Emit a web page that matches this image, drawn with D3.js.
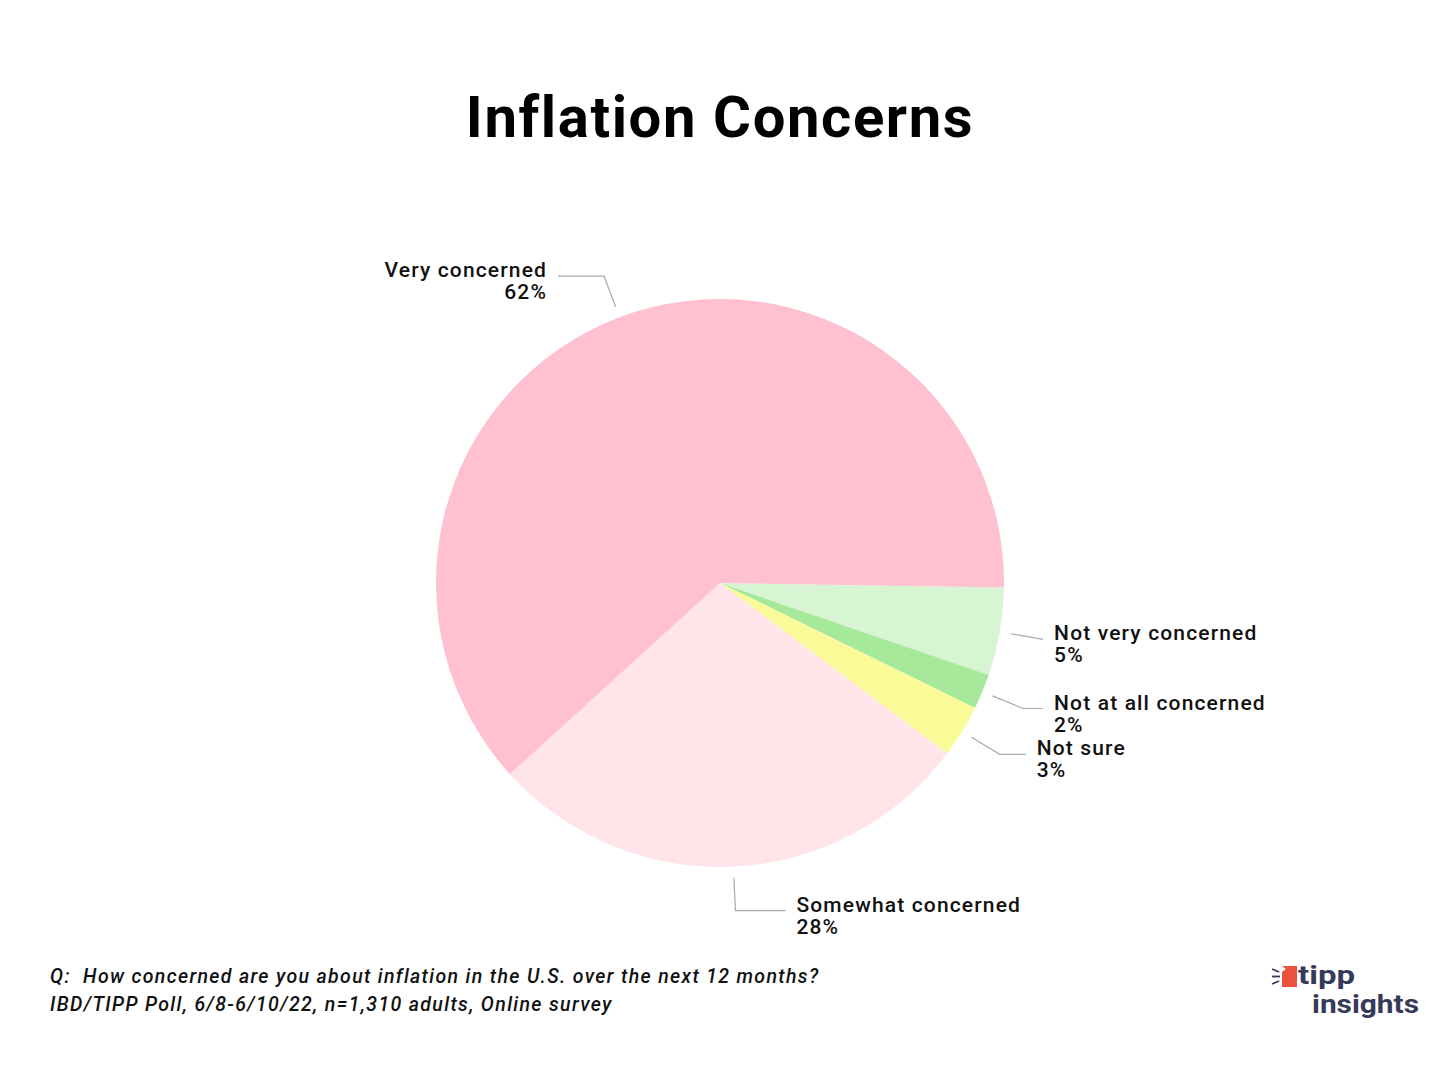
<!DOCTYPE html>
<html>
<head>
<meta charset="utf-8">
<script src="https://cdn.jsdelivr.net/npm/d3@7/dist/d3.min.js"></script>
<style>
  html, body { margin: 0; padding: 0; background: #fff; }
  svg { display: block; }
  text { white-space: pre; }
</style>
</head>
<body>
<svg id="chart" width="1440" height="1080"></svg>
<script>
// ---- data ----
const categories = ["Not very concerned", "Not at all concerned", "Not sure", "Somewhat concerned", "Very concerned"];
const values = [5, 2, 3, 28, 62];
const valueLabels = ["5%", "2%", "3%", "28%", "62%"];
const sliceColors = ["#d7f5d3", "#a6e99b", "#fbfa98", "#ffe4ea", "#ffc0cf"];
const titleText = "Inflation Concerns";
const footnotes = [
  "Q:  How concerned are you about inflation in the U.S. over the next 12 months?",
  "IBD/TIPP Poll, 6/8-6/10/22, n=1,310 adults, Online survey"
];
const logoWords = ["tipp", "insights"];

// ---- layout ----
const W = 1440, H = 1080;
const cx = 720, cy = 583, R = 284;
const startDeg = 90.9;
const leaderExt = [0, 20, 26, 50, 46]; // horizontal extension of leader lines
const font = "Roboto, 'Noto Sans', sans-serif";

const svg = d3.select("#chart");
svg.append("rect").attr("width", W).attr("height", H).attr("fill", "#fff");

svg.append("text")
  .attr("x", 720).attr("y", 137)
  .attr("text-anchor", "middle")
  .attr("font-family", font)
  .attr("font-weight", 700)
  .attr("font-size", 58)
  .attr("letter-spacing", 1.6)
  .attr("fill", "#000")
  .text(titleText);

const rad = Math.PI / 180;
const pie = d3.pie().sort(null).value(d => d)
  .startAngle(startDeg * rad).endAngle((startDeg + 360) * rad);
const arcs = pie(values);
const arc = d3.arc().innerRadius(0).outerRadius(R);

const g = svg.append("g").attr("transform", `translate(${cx},${cy})`);
g.selectAll("path.slice").data(arcs).enter().append("path")
  .attr("class", "slice")
  .attr("d", arc)
  .attr("fill", (d, i) => sliceColors[i]);

const r1 = R + 11, r2 = R + 44;
arcs.forEach((d, i) => {
  const a = (d.startAngle + d.endAngle) / 2;
  const sx = Math.sin(a), sy = -Math.cos(a);
  const p1 = [r1 * sx, r1 * sy];
  const p2 = [r2 * sx, r2 * sy];
  const right = sx >= 0;
  const p3 = [p2[0] + (right ? leaderExt[i] : -leaderExt[i]), p2[1]];
  g.append("polyline")
    .attr("points", [p1, p2, p3].map(p => p.join(",")).join(" "))
    .attr("fill", "none")
    .attr("stroke", "#aaaaaa")
    .attr("stroke-width", 1.2);
  const tx = p3[0] + (right ? 11 : -11);
  const t = g.append("text")
    .attr("x", tx).attr("y", p2[1] + 1)
    .attr("text-anchor", right ? "start" : "end")
    .attr("font-family", font)
    .attr("font-weight", 500)
    .attr("font-size", 21)
    .attr("letter-spacing", 1.15)
    .attr("fill", "#111");
  t.append("tspan").attr("x", tx).attr("dy", 0).text(categories[i]);
  t.append("tspan").attr("x", tx).attr("dy", 22).text(valueLabels[i]);
});

// footnotes
footnotes.forEach((f, i) => {
  svg.append("text")
    .attr("x", 50).attr("y", 983 + i * 28)
    .attr("font-family", font)
    .attr("font-style", "italic")
    .attr("font-weight", 500)
    .attr("font-size", 19.5)
    .attr("letter-spacing", 1.35)
    .attr("fill", "#111")
    .text(f);
});

// logo
const logo = svg.append("g");
logo.append("path")
  .attr("d", "M1282,966 L1297,966 L1297,987 L1282,987 L1282,972 L1286,969 Z")
  .attr("fill", "#ec5140");
[[1272, 969, 1279, 972], [1272, 976.5, 1280, 976.5], [1272, 984, 1279, 981]].forEach(l => {
  logo.append("line").attr("x1", l[0]).attr("y1", l[1]).attr("x2", l[2]).attr("y2", l[3])
    .attr("stroke", "#363a58").attr("stroke-width", 1.8);
});
logo.append("text").attr("x", 1298).attr("y", 984)
  .attr("font-family", font).attr("font-weight", 700).attr("font-size", 25)
  .attr("textLength", 57).attr("lengthAdjust", "spacingAndGlyphs")
  .attr("fill", "#363a58").text(logoWords[0]);
logo.append("text").attr("x", 1312).attr("y", 1013)
  .attr("font-family", font).attr("font-weight", 700).attr("font-size", 25)
  .attr("textLength", 107).attr("lengthAdjust", "spacingAndGlyphs")
  .attr("fill", "#363a58").text(logoWords[1]);
</script>
</body>
</html>
